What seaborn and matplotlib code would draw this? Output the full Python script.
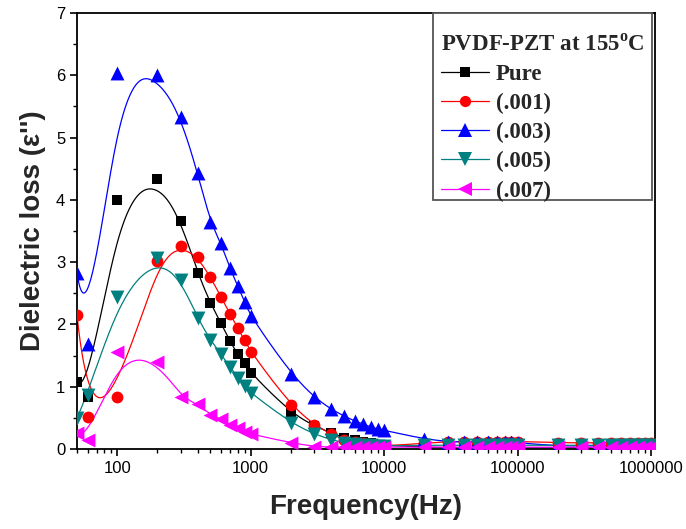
import numpy as np
import pandas as pd
import matplotlib
matplotlib.use("Agg")
import matplotlib.pyplot as plt
from matplotlib.lines import Line2D
from matplotlib.patches import Rectangle
from matplotlib.ticker import FixedLocator, FuncFormatter, LogLocator, MultipleLocator, NullFormatter
import seaborn as sns

# ---------------- data ----------------
freq = [50, 60, 100, 200, 300, 400, 500, 600, 700, 800, 900, 1000,
        2000, 3000, 4000, 5000, 6000, 7000, 8000, 9000, 10000,
        20000, 30000, 40000, 50000, 60000, 70000, 80000, 90000, 100000,
        200000, 300000, 400000, 500000, 600000, 700000, 800000, 900000, 1000000]

pure = [1.08, 0.84, 4.00, 4.33, 3.66, 2.83, 2.34, 2.02, 1.73, 1.52, 1.38, 1.22,
        0.58, 0.37, 0.26, 0.18, 0.14, 0.11, 0.09, 0.07, 0.06,
        0.03, 0.02, 0.02, 0.02, 0.02, 0.02, 0.02, 0.02, 0.02,
        0.02, 0.02, 0.02, 0.02, 0.02, 0.02, 0.02, 0.02, 0.02]
p001 = [2.15, 0.52, 0.84, 3.02, 3.26, 3.08, 2.76, 2.44, 2.17, 1.94, 1.75, 1.56,
        0.70, 0.39, 0.24, 0.15, 0.11, 0.09, 0.07, 0.06, 0.05,
        0.09, 0.12, 0.12, 0.12, 0.12, 0.12, 0.12, 0.12, 0.12,
        0.10, 0.10, 0.10, 0.10, 0.10, 0.10, 0.10, 0.10, 0.10]
p003 = [2.83, 1.68, 6.03, 6.00, 5.33, 4.43, 3.64, 3.30, 2.90, 2.62, 2.36, 2.13,
        1.21, 0.83, 0.64, 0.53, 0.45, 0.40, 0.35, 0.32, 0.30,
        0.16, 0.12, 0.11, 0.11, 0.11, 0.11, 0.11, 0.11, 0.10,
        0.05, 0.05, 0.05, 0.05, 0.05, 0.05, 0.05, 0.05, 0.05]
p005 = [0.50, 0.86, 2.44, 3.06, 2.71, 2.10, 1.75, 1.52, 1.32, 1.14, 1.01, 0.90,
        0.42, 0.24, 0.15, 0.10, 0.08, 0.07, 0.06, 0.05, 0.05,
        0.06, 0.06, 0.06, 0.06, 0.06, 0.06, 0.06, 0.06, 0.06,
        0.06, 0.06, 0.06, 0.06, 0.06, 0.06, 0.06, 0.06, 0.06]
p007 = [0.25, 0.14, 1.56, 1.40, 0.84, 0.72, 0.55, 0.48, 0.39, 0.33, 0.28, 0.24,
        0.10, 0.04, 0.03, 0.03, 0.03, 0.03, 0.03, 0.03, 0.03,
        0.03, 0.03, 0.03, 0.03, 0.03, 0.03, 0.03, 0.03, 0.03,
        0.03, 0.03, 0.03, 0.03, 0.03, 0.03, 0.03, 0.03, 0.03]

series_names = ["Pure", "(.001)", "(.003)", "(.005)", "(.007)"]
series_values = [pure, p001, p003, p005, p007]
x_tick_values = [100, 1000, 10000, 100000, 1000000]
y_tick_values = [0, 1, 2, 3, 4, 5, 6, 7]
legend_title = "PVDF-PZT at 155$^{\\mathrm{o}}$C"
x_label = "Frequency(Hz)"
y_label = "Dielectric loss (\u03b5'')"

# ---------------- styles ----------------
colors = {"Pure": "#000000", "(.001)": "#FF0000", "(.003)": "#0000FF",
          "(.005)": "#008080", "(.007)": "#FF00FF"}
markers = {"Pure": "s", "(.001)": "o", "(.003)": "^", "(.005)": "v", "(.007)": "<"}
msizes = {"Pure": 7.5, "(.001)": 8.5, "(.003)": 10, "(.005)": 10, "(.007)": 10}

df = pd.DataFrame({
    "freq": np.tile(freq, len(series_names)),
    "loss": np.concatenate(series_values),
    "sample": np.repeat(series_names, len(freq)),
})

sns.set_style("ticks")
plt.rcParams["font.family"] = ["Liberation Sans", "DejaVu Sans"]
plt.rcParams["mathtext.fontset"] = "custom"
plt.rcParams["mathtext.rm"] = "Liberation Serif:bold"
plt.rcParams["mathtext.bf"] = "Liberation Serif:bold"


def bspline(xc, yc, k=3, num=1500):
    """Clamped cubic B-spline curve with the data points as control points
    (the 'B-spline' line connection style)."""
    xc = np.asarray(xc, float)
    yc = np.asarray(yc, float)
    n = len(xc)
    t = np.concatenate([np.zeros(k + 1), np.arange(1, n - k), np.full(k + 1, n - k)]).astype(float)
    u = np.linspace(0, n - k, num)
    B = np.zeros((num, len(t) - 1))
    for i in range(len(t) - 1):
        B[:, i] = (t[i] <= u) & (u < t[i + 1])
    B[-1, :] = 0
    B[-1, n - 1] = 1
    for d in range(1, k + 1):
        Bn = np.zeros((num, len(t) - 1 - d))
        for i in range(len(t) - 1 - d):
            den1 = t[i + d] - t[i]
            den2 = t[i + d + 1] - t[i + 1]
            a = (u - t[i]) / den1 if den1 > 0 else 0.0
            b = (t[i + d + 1] - u) / den2 if den2 > 0 else 0.0
            Bn[:, i] = a * B[:, i] + b * B[:, i + 1]
        B = Bn
    return B @ xc, B @ yc


fig = plt.figure(figsize=(6.86, 5.29), dpi=100)
ax = fig.add_axes([77 / 686, 80 / 529, (655 - 77) / 686, (449 - 13) / 529])

# smooth connecting lines
for name in series_names:
    sub = df[df["sample"] == name]
    lx, ly = bspline(np.log10(sub["freq"].values), sub["loss"].values)
    sns.lineplot(x=10 ** lx, y=ly, ax=ax, color=colors[name], lw=0.9,
                 sort=False, estimator=None, zorder=2)

# markers
for name in series_names:
    sub = df[df["sample"] == name]
    sns.scatterplot(data=sub, x="freq", y="loss", ax=ax, color=colors[name],
                    marker=markers[name], s=msizes[name] ** 2, edgecolor=colors[name],
                    linewidth=0, zorder=3, legend=False)

ax.set_xscale("log")
ax.set_xlim(50, 1.07e6)
ax.set_ylim(0, 7)

ax.xaxis.set_major_locator(FixedLocator(x_tick_values))
ax.xaxis.set_major_formatter(FuncFormatter(lambda v, p: f"{int(round(v))}"))
ax.xaxis.set_minor_locator(LogLocator(base=10, subs=np.arange(2, 10), numticks=20))
ax.xaxis.set_minor_formatter(NullFormatter())
ax.yaxis.set_major_locator(FixedLocator(y_tick_values))
ax.yaxis.set_minor_locator(MultipleLocator(0.5))

ax.tick_params(axis="both", which="major", direction="out", length=5, width=1.2,
               labelsize=12, color="black", labelcolor="black")
ax.tick_params(axis="both", which="minor", direction="out", length=3, width=1.0, color="black")
for sp in ax.spines.values():
    sp.set_visible(True)
    sp.set_color("black")
    sp.set_linewidth(1.3)

ax.set_xlabel(x_label, fontsize=20, fontweight="bold", labelpad=13)
ax.set_ylabel(y_label, fontsize=20, fontweight="bold", labelpad=7)

# legend box (frame drawn as a separate rectangle)
ax.add_patch(Rectangle((0.616, 0.571), 0.9948 - 0.616, 1.0 - 0.571, transform=ax.transAxes,
                       facecolor="white", edgecolor="#555555", lw=1.3, zorder=6, clip_on=False))
handles = [Line2D([], [], color=colors[n], marker=markers[n], markersize=msizes[n] * 0.95,
                  lw=0.9, markeredgewidth=0) for n in series_names]
leg = ax.legend(handles, series_names, title=legend_title, loc="upper left",
                bbox_to_anchor=(0.629, 0.951), borderaxespad=0, frameon=False,
                prop={"family": "Liberation Serif", "weight": "bold", "size": 16.5},
                handlelength=2.1, handletextpad=0.3, labelspacing=0.35,
                borderpad=0, alignment="left")
leg.get_title().set_fontproperties({"family": "Liberation Serif", "weight": "bold", "size": 16.5})
leg.set_zorder(7)

fig.savefig("out.png", dpi=100)
